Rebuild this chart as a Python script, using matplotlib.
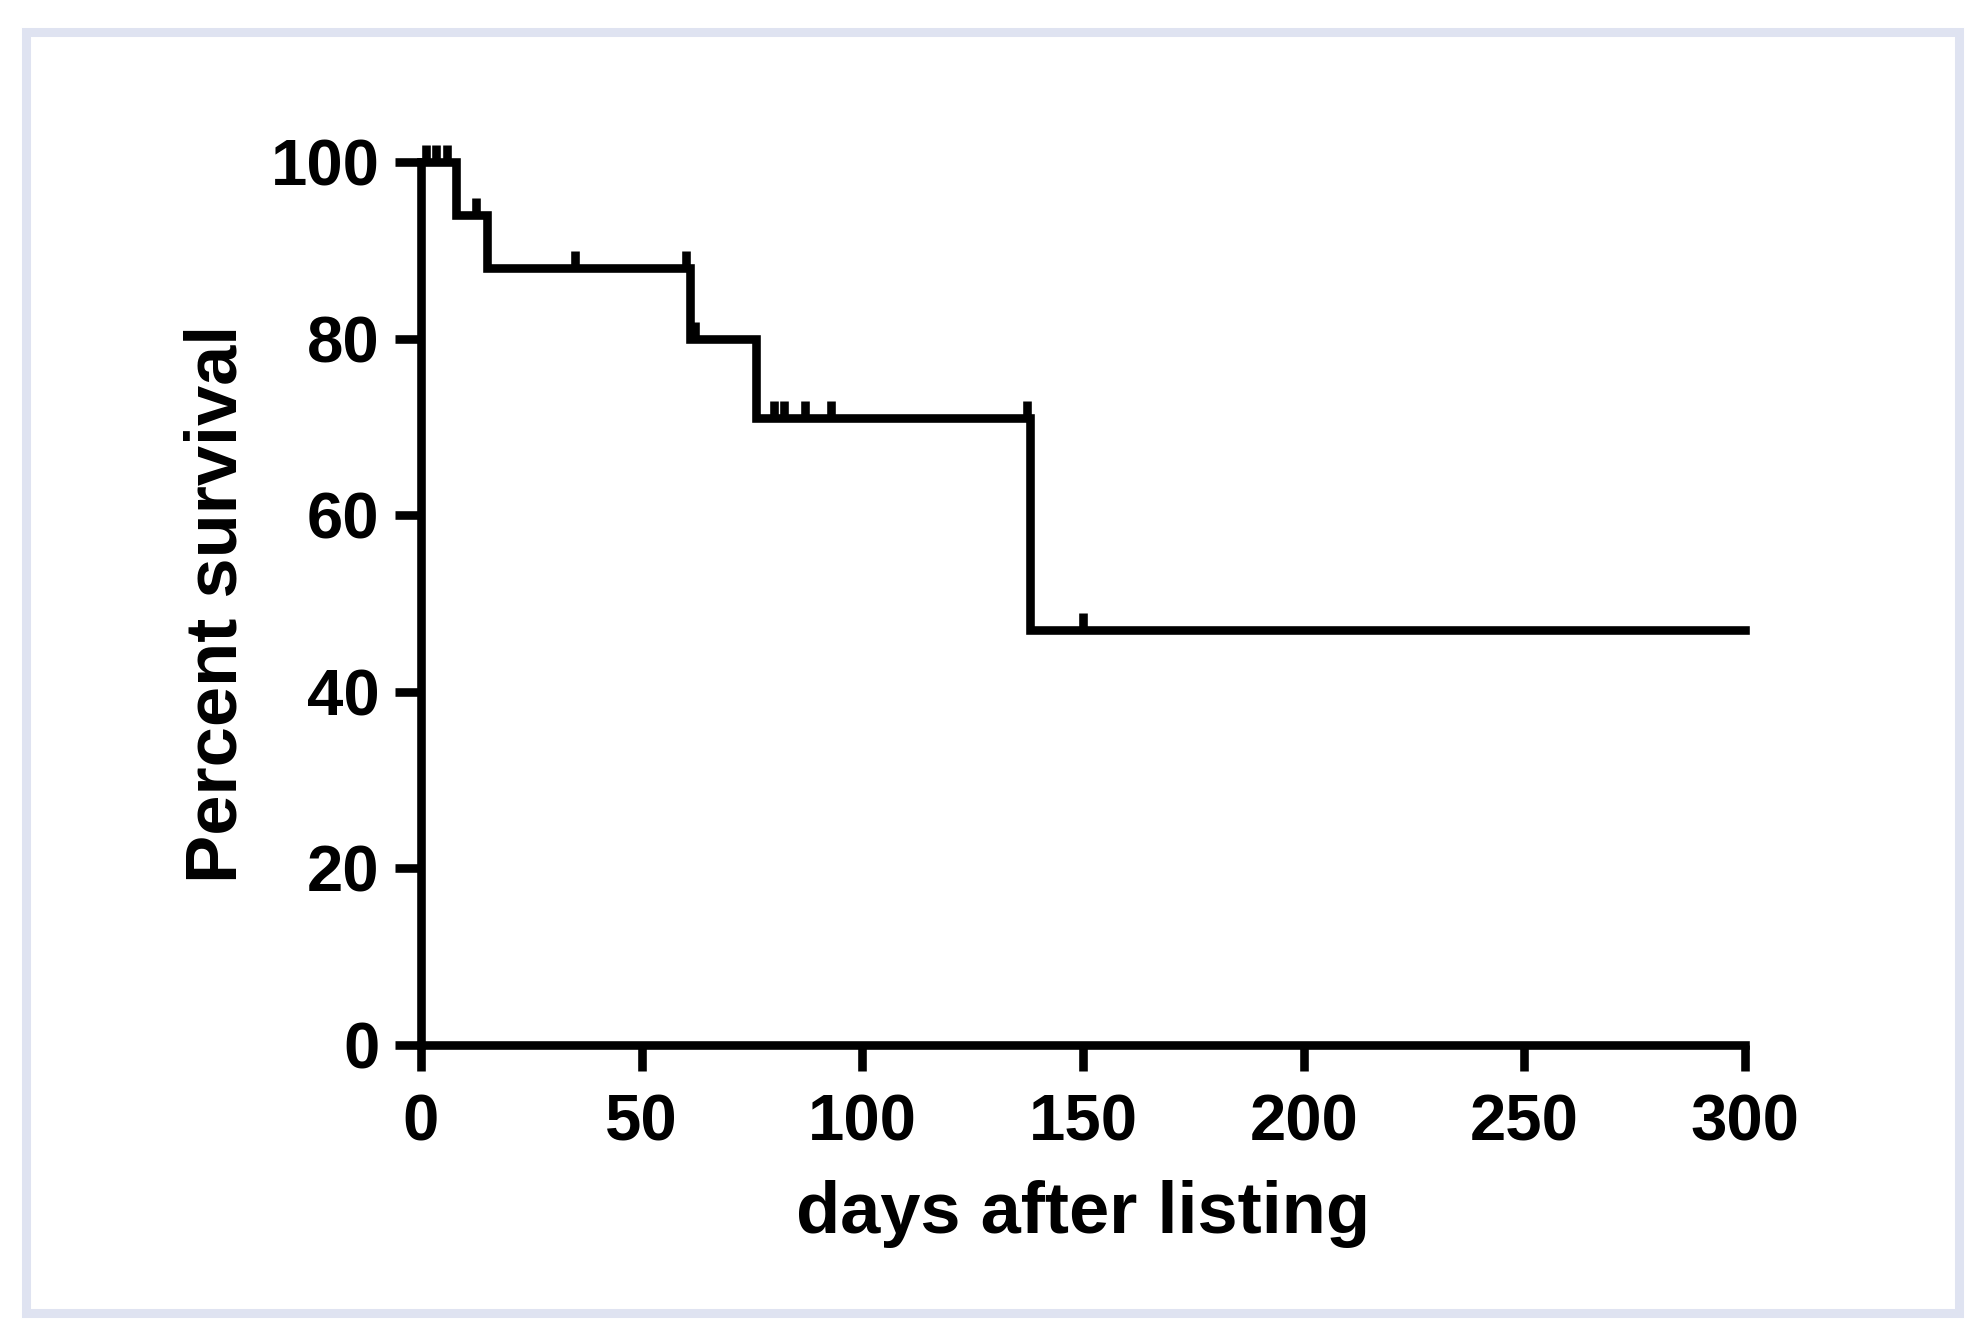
import matplotlib
matplotlib.use("Agg")
import matplotlib.pyplot as plt
from matplotlib.patches import Rectangle

plt.rcParams['font.family'] = ['Liberation Sans', 'DejaVu Sans']

# Kaplan-Meier steps (day of drop, survival after drop)
step_days = [0, 8, 15, 61, 76, 138, 300]
step_surv = [100, 94, 88, 80, 71, 47, 47]

# censored observations
cens_days = [1.2, 3.4, 6, 12.5, 35, 60, 62, 80, 82.3, 87, 93, 137.3, 150]
cens_surv = [100, 100, 100, 94, 88, 88, 80, 71, 71, 71, 71, 71, 47]

xticks = [0, 50, 100, 150, 200, 250, 300]
yticks = [0, 20, 40, 60, 80, 100]

fig = plt.figure(figsize=(19.83, 13.32), dpi=100)
ax = fig.add_axes([421/1983, 1 - 1045/1332, (1745 - 421)/1983, (1045 - 162)/1332])

# lavender frame round the figure
fig.patches.append(Rectangle((26.5/1983, 1 - 1313/1332), (1959.5 - 26.5)/1983, (1313 - 31.5)/1332,
                             transform=fig.transFigure, fill=False,
                             edgecolor='#dfe3f1', linewidth=6.5))

lw = 6.2
ax.step(step_days, step_surv, where='post', color='black', linewidth=lw,
        solid_joinstyle='miter', clip_on=False, zorder=3)
ax.plot(cens_days, cens_surv, linestyle='none', marker=2, markersize=12,
        markeredgewidth=lw, color='black', clip_on=False, zorder=3)

ax.set_xlim(0, 300)
ax.set_ylim(0, 100)
ax.set_xticks(xticks)
ax.set_yticks(yticks)

for side in ['top', 'right']:
    ax.spines[side].set_visible(False)
for side in ['left', 'bottom']:
    ax.spines[side].set_linewidth(lw)
    ax.spines[side].set_capstyle('projecting')

ax.tick_params(axis='both', direction='out', length=19, width=lw, color='black')
ax.tick_params(axis='x', pad=16)
ax.tick_params(axis='y', pad=11)
for lab in ax.get_xticklabels() + ax.get_yticklabels():
    lab.set_fontsize(47)
    lab.set_fontweight('bold')

ax.set_xlabel('days after listing', fontsize=52, fontweight='bold', labelpad=19)
ax.set_ylabel('Percent survival', fontsize=52, fontweight='bold', labelpad=14)

fig.savefig('out.png', dpi=100)
